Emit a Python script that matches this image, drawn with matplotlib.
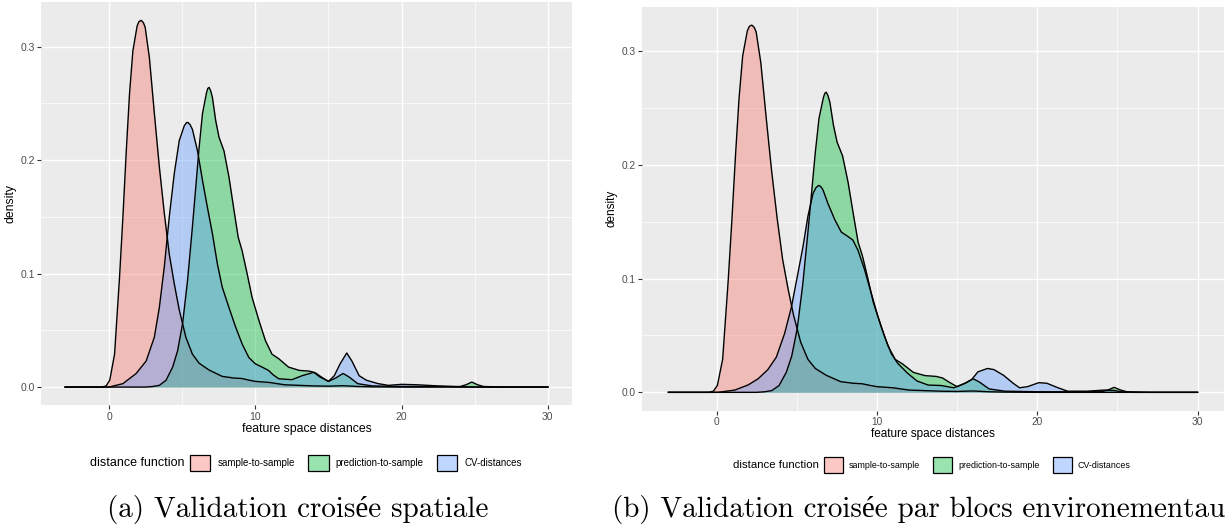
import matplotlib.pyplot as plt
from matplotlib.patches import Patch
from matplotlib.colors import to_rgba
from matplotlib.ticker import MultipleLocator

# legend labels and ggplot default hues
series_names = ['sample-to-sample', 'prediction-to-sample', 'CV-distances']
series_colors = ['#F8766D', '#00BA38', '#619CFF']

# sample-to-sample density (same in both panels)
x_s2s = [-3, -0.5, -0.2, 0.05, 0.38, 0.72, 0.95, 1.18, 1.4, 1.63, 1.92, 2.05, 2.2, 2.35, 2.47, 2.76,
         3.1, 3.44, 3.78, 4.12, 4.46, 4.8, 5.25, 5.7, 6.16, 6.84, 7.74, 8.5, 9.1, 9.6,
         10, 11, 12, 13, 14, 15, 16, 17, 18, 20, 30]
d_s2s = [0, 0, 0.001, 0.006, 0.029, 0.097, 0.15, 0.208, 0.258, 0.296, 0.318, 0.322, 0.323, 0.321, 0.317, 0.29,
         0.241, 0.194, 0.153, 0.117, 0.091, 0.068, 0.044, 0.029, 0.021, 0.015, 0.0094, 0.008, 0.0075, 0.006,
         0.005, 0.004, 0.002, 0.0015, 0.001, 0.0008, 0.0012, 0.0005, 0.0002, 0, 0]

# prediction-to-sample density (same in both panels)
x_p2s = [-3, 2.5, 3.0, 3.44, 3.9, 4.35, 4.69, 5.03, 5.37, 5.7, 5.93, 6.16, 6.39, 6.66, 6.75, 6.84, 6.95,
         7.07, 7.29, 7.52, 7.86, 8.2, 8.54, 8.83, 9.1, 9.44, 9.78, 10.24, 10.69, 11.14, 11.6,
         12.27, 13.0, 13.7, 14.1, 14.5, 15.0, 15.5, 16.0, 16.4, 17.0, 18.0, 20.0, 24.0, 24.4,
         24.8, 25.2, 25.6, 27, 30]
d_p2s = [0, 0, 0.0005, 0.0015, 0.006, 0.0176, 0.032, 0.056, 0.094, 0.141, 0.176, 0.211, 0.241, 0.259, 0.263, 0.264, 0.261,
         0.255, 0.235, 0.220, 0.208, 0.185, 0.156, 0.132, 0.120, 0.100, 0.079, 0.059, 0.041, 0.029, 0.025,
         0.0176, 0.0147, 0.014, 0.0126, 0.009, 0.005, 0.008, 0.012, 0.009, 0.003, 0.001, 0.0005, 0.0005, 0.002,
         0.0044, 0.002, 0.0005, 0, 0]

# CV-distances, spatial cross-validation (a)
x_cv_a = [-3, 0, 0.95, 1.86, 2.54, 3.1, 3.44, 3.78, 4.12, 4.46, 4.8, 5.14, 5.3, 5.41, 5.55, 5.7, 6.05,
          6.39, 6.73, 7.07, 7.4, 7.74, 8.2, 8.65, 9.1, 9.56, 10.0, 10.46, 10.9, 11.2, 11.6,
          12.5, 13.2, 14.0, 14.4, 15.0, 15.4, 15.8, 16.25, 16.6, 17.1, 17.6, 18.4, 19.1, 20.0,
          21.1, 22.5, 23.8, 25, 30]
d_cv_a = [0, 0, 0.003, 0.012, 0.023, 0.044, 0.070, 0.106, 0.150, 0.188, 0.217, 0.230, 0.233, 0.233, 0.231, 0.227, 0.208,
          0.182, 0.158, 0.135, 0.109, 0.088, 0.070, 0.053, 0.038, 0.026, 0.0205, 0.0176, 0.0147, 0.011, 0.0073,
          0.0065, 0.010, 0.013, 0.009, 0.005, 0.010, 0.0205, 0.030, 0.023, 0.010, 0.006, 0.003, 0.0015, 0.0024,
          0.002, 0.001, 0.0003, 0, 0]

# CV-distances, environmental block cross-validation (b)
x_cv_b = [-3, 0.1, 1.14, 1.97, 2.6, 3.2, 3.73, 4.25, 4.67, 5.08, 5.39, 5.7, 6.02, 6.2, 6.37, 6.5, 6.64,
          6.95, 7.37, 7.78, 8.2, 8.5, 8.82, 9.23, 9.65, 10.06, 10.48, 10.9, 11.3, 11.9, 12.5,
          13.2, 14.0, 14.8, 15.5, 15.9, 16.3, 16.9, 17.3, 17.9, 18.5, 18.9, 19.4, 20.1, 20.6,
          21.3, 21.9, 23.1, 24.2, 24.8, 25.2, 26, 30]
d_cv_b = [0, 0, 0.002, 0.0065, 0.012, 0.020, 0.031, 0.052, 0.075, 0.105, 0.128, 0.155, 0.175, 0.180, 0.182, 0.181, 0.178,
          0.166, 0.152, 0.141, 0.137, 0.134, 0.125, 0.108, 0.087, 0.067, 0.049, 0.034, 0.0255, 0.017, 0.010,
          0.0064, 0.006, 0.004, 0.008, 0.011, 0.018, 0.021, 0.020, 0.015, 0.008, 0.004, 0.005, 0.0085, 0.008,
          0.004, 0.001, 0.001, 0.002, 0.0017, 0.0005, 0, 0]

captions = ['(a) Validation croisée spatiale',
            '(b) Validation croisée par blocs environementaux']

W, H = 1225, 531


def draw_panel(ax, curves, tick_size, label_size):
    ax.set_facecolor('#EBEBEB')
    for (x, d), col in zip(curves, series_colors):
        ax.fill_between(x, d, 0, color=col, alpha=0.4, lw=0)
        ax.plot(x, d, color='black', lw=1.0)
    ax.set_xlim(-4.65, 31.65)
    ax.set_ylim(-0.01615, 0.3392)
    ax.xaxis.set_major_locator(MultipleLocator(10))
    ax.xaxis.set_minor_locator(MultipleLocator(5))
    ax.yaxis.set_major_locator(MultipleLocator(0.1))
    ax.yaxis.set_minor_locator(MultipleLocator(0.05))
    ax.yaxis.set_major_formatter(lambda v, p: f'{v:.1f}')
    ax.grid(which='major', color='white', lw=1.0)
    ax.grid(which='minor', color='white', lw=0.5)
    ax.set_axisbelow(True)
    for s in ax.spines.values():
        s.set_visible(False)
    ax.tick_params(which='major', length=3, width=0.8, color='#333333',
                   labelcolor='#4D4D4D', labelsize=tick_size, pad=1.5)
    ax.tick_params(which='minor', length=0)
    ax.set_xlabel('feature space distances', fontsize=label_size, labelpad=1)
    ax.set_ylabel('density', fontsize=label_size, labelpad=3)


plt.rcParams['font.family'] = ['Liberation Sans', 'DejaVu Sans']
fig = plt.figure(figsize=(W / 100, H / 100), dpi=100)

ax1 = fig.add_axes([41 / W, 1 - 405.4 / H, 531 / W, 403.4 / H])
draw_panel(ax1, [(x_s2s, d_s2s), (x_p2s, d_p2s), (x_cv_a, d_cv_a)], 7.5, 8.8)

ax2 = fig.add_axes([642 / W, 1 - 410.7 / H, 582 / W, 404 / H])
draw_panel(ax2, [(x_s2s, d_s2s), (x_p2s, d_p2s), (x_cv_b, d_cv_b)], 7.3, 8.5)

handles = [Patch(facecolor=to_rgba(c, 0.4), edgecolor='black', lw=0.9) for c in series_colors]

# legends under each panel, title on the left like ggplot
fig.text(184 / W, 1 - 463 / H, 'distance function', ha='right', va='center', fontsize=9)
fig.legend(handles, series_names, loc='center left', bbox_to_anchor=(190 / W, 1 - 463 / H),
           ncol=3, frameon=False, fontsize=7, handlelength=2.1, handleheight=2.3,
           handletextpad=0.7, columnspacing=1.4, borderpad=0, borderaxespad=0)

fig.text(819 / W, 1 - 465 / H, 'distance function', ha='right', va='center', fontsize=8.2)
fig.legend(handles, series_names, loc='center left', bbox_to_anchor=(824 / W, 1 - 465 / H),
           ncol=3, frameon=False, fontsize=6.4, handlelength=2.1, handleheight=2.3,
           handletextpad=0.7, columnspacing=1.5, borderpad=0, borderaxespad=0)

# captions; (b) runs past the right edge as in the source figure
cap_font = ['cmr10', 'Liberation Serif']
fig.text(107 / W, 1 - 510 / H, captions[0], ha='left', va='center', fontsize=21, family=cap_font)
fig.text(612 / W, 1 - 510 / H, captions[1], ha='left', va='center', fontsize=21, family=cap_font)

fig.savefig('out.png', dpi=100)
